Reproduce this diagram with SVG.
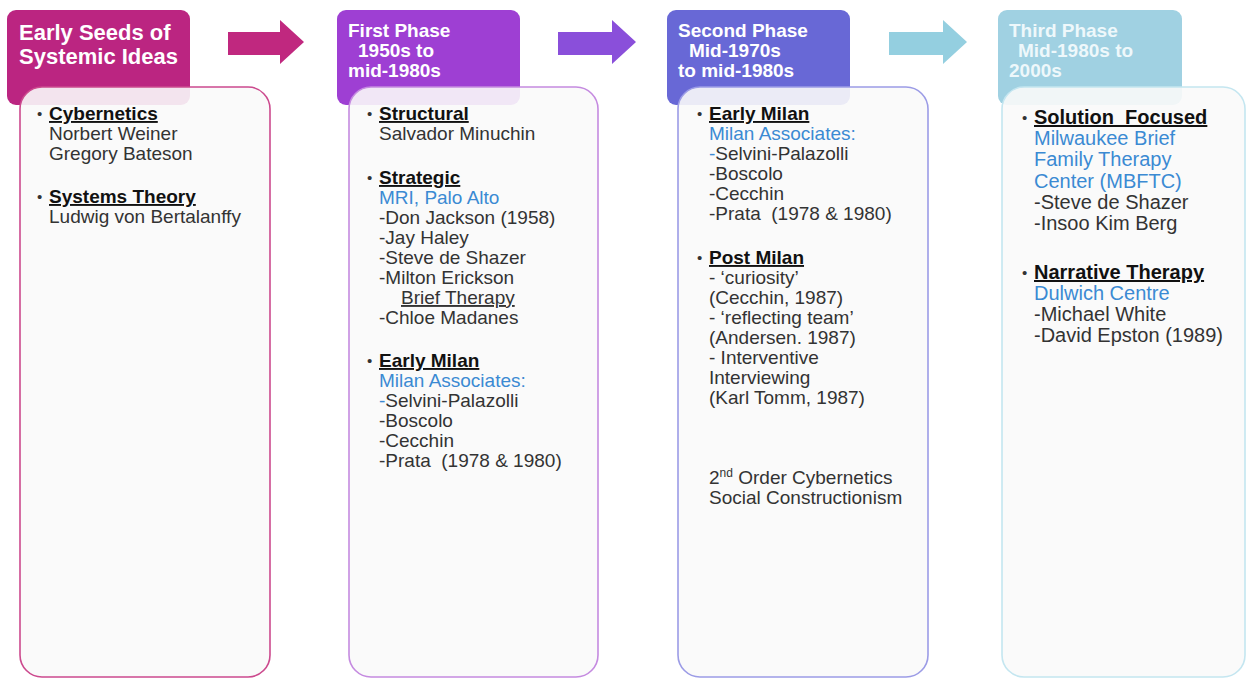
<svg xmlns="http://www.w3.org/2000/svg" width="1247" height="680" viewBox="0 0 1247 680">
<style>
text{font-family:"Liberation Sans",Arial,sans-serif;}
.hd{font-weight:bold;fill:#ffffff;font-size:19px;}
.b{font-size:19px;fill:#333333;}
.b4{font-size:20px;fill:#333333;}
.h{font-weight:bold;fill:#111111;text-decoration:underline;}
.bl{fill:#3b8ad3;}
.u{text-decoration:underline;}
.dot{font-size:15px;}
.box{fill:#fafafa;fill-opacity:0.9;stroke-width:1.6;}
</style>
<rect width="1247" height="680" fill="#ffffff"/>
<g id="connectors">
<polygon points="228,32 280,32 280,20 304,42 280,64 280,55 228,55" fill="#c0287f"/>
<polygon points="558,32 612,32 612,20 636,42 612,64 612,55 558,55" fill="#8a4fda"/>
<polygon points="889,32 943,32 943,20 967,42 943,64 943,55 889,55" fill="#94cfe0"/>
</g>
<g id="col1">
<rect x="7" y="10" width="183" height="95" rx="9" fill="#bb2581"/>
<text class="hd" style="font-size:22px" x="19" y="40">Early Seeds of</text>
<text class="hd" style="font-size:22px" x="19" y="64">Systemic Ideas</text>
<rect class="box" x="20" y="87" width="250" height="590" rx="22" stroke="#cc4a8e"/>
<g class="b">
<text class="dot" x="37" y="119">•</text><text class="h" x="49" y="120">Cybernetics</text>
<text x="49" y="140">Norbert Weiner</text>
<text x="49" y="160">Gregory Bateson</text>
<text class="dot" x="37" y="202">•</text><text class="h" x="49" y="203">Systems Theory</text>
<text x="49" y="223">Ludwig von Bertalanffy</text>
</g>
</g>
<g id="col2">
<rect x="337" y="10" width="183" height="95" rx="9" fill="#9e3fd3"/>
<text class="hd" x="348" y="37">First Phase</text>
<text class="hd" x="358" y="57">1950s to</text>
<text class="hd" x="348" y="77">mid-1980s</text>
<rect class="box" x="349" y="87" width="249" height="590" rx="22" stroke="#c58be0"/>
<g class="b">
<text class="dot" x="367" y="119">•</text><text class="h" x="379" y="120">Structural</text>
<text x="379" y="140">Salvador Minuchin</text>
<text class="dot" x="367" y="183">•</text><text class="h" x="379" y="184">Strategic</text>
<text class="bl" x="379" y="204">MRI, Palo Alto</text>
<text x="379" y="224">-Don Jackson (1958)</text>
<text x="379" y="244">-Jay Haley</text>
<text x="379" y="264">-Steve de Shazer</text>
<text x="379" y="284">-Milton Erickson</text>
<text class="u" x="401" y="304">Brief Therapy</text>
<text x="379" y="324">-Chloe Madanes</text>
<text class="dot" x="367" y="366">•</text><text class="h" x="379" y="367">Early Milan</text>
<text class="bl" x="379" y="387">Milan Associates:</text>
<text x="379" y="407"><tspan class="bl">-</tspan>Selvini-Palazolli</text>
<text x="379" y="427">-Boscolo</text>
<text x="379" y="447">-Cecchin</text>
<text x="379" y="467" xml:space="preserve">-Prata  (1978 &amp; 1980)</text>
</g>
</g>
<g id="col3">
<rect x="667" y="10" width="183" height="95" rx="9" fill="#6868d6"/>
<text class="hd" x="678" y="37">Second Phase</text>
<text class="hd" x="689" y="57">Mid-1970s</text>
<text class="hd" x="678" y="77">to mid-1980s</text>
<rect class="box" x="678" y="87" width="250" height="590" rx="22" stroke="#9c9ce6"/>
<g class="b">
<text class="dot" x="697" y="119">•</text><text class="h" x="709" y="120">Early Milan</text>
<text class="bl" x="709" y="140">Milan Associates:</text>
<text x="709" y="160"><tspan class="bl">-</tspan>Selvini-Palazolli</text>
<text x="709" y="180">-Boscolo</text>
<text x="709" y="200">-Cecchin</text>
<text x="709" y="220" xml:space="preserve">-Prata  (1978 &amp; 1980)</text>
<text class="dot" x="697" y="263">•</text><text class="h" x="709" y="264">Post Milan</text>
<text x="709" y="284">- ‘curiosity’</text>
<text x="709" y="304">(Cecchin, 1987)</text>
<text x="709" y="324">- ‘reflecting team’</text>
<text x="709" y="344">(Andersen. 1987)</text>
<text x="709" y="364">- Interventive</text>
<text x="709" y="384">Interviewing</text>
<text x="709" y="404">(Karl Tomm, 1987)</text>
<text x="709" y="484">2<tspan font-size="12px" dy="-7">nd</tspan><tspan dy="7"> Order Cybernetics</tspan></text>
<text x="709" y="504">Social Constructionism</text>
</g>
</g>
<g id="col4">
<rect x="998" y="10" width="184" height="95" rx="9" fill="#a0d1e2"/>
<text class="hd" style="fill:#eef8fb" x="1009" y="37">Third Phase</text>
<text class="hd" style="fill:#eef8fb" x="1018" y="57">Mid-1980s to</text>
<text class="hd" style="fill:#eef8fb" x="1009" y="77">2000s</text>
<rect class="box" x="1002" y="87" width="243" height="590" rx="22" stroke="#c4e6f0"/>
<g class="b4">
<text class="dot" x="1022" y="123">•</text><text class="h" x="1034" y="124" xml:space="preserve">Solution  Focused</text>
<text class="bl" x="1034" y="145">Milwaukee Brief</text>
<text class="bl" x="1034" y="166">Family Therapy</text>
<text class="bl" x="1034" y="188">Center (MBFTC)</text>
<text x="1034" y="209">-Steve de Shazer</text>
<text x="1034" y="230">-Insoo Kim Berg</text>
<text class="dot" x="1022" y="278">•</text><text class="h" x="1034" y="279">Narrative Therapy</text>
<text class="bl" x="1034" y="300">Dulwich Centre</text>
<text x="1034" y="321">-Michael White</text>
<text x="1034" y="342">-David Epston (1989)</text>
</g>
</g>
</svg>
